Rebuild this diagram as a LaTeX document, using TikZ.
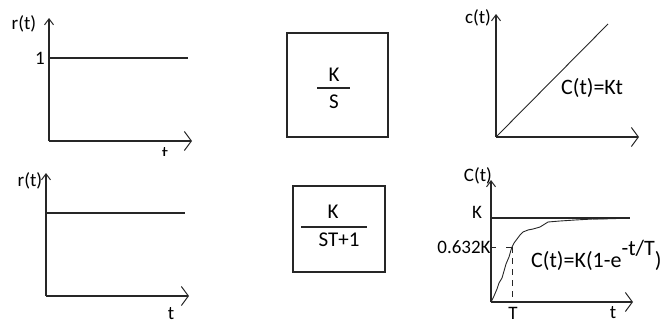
\documentclass[tikz,border=0pt]{standalone}
\usepackage{fontspec}
\setmainfont{Carlito}
\usetikzlibrary{arrows.meta}
\begin{document}
\begin{tikzpicture}[x=1pt,y=-1pt,
 axis/.style={line width=1.4pt, draw=black!85},
 xarr/.style={-{Straight Barb[length=7pt,width=19pt,line width=1pt]}},
 yarr/.style={-{Straight Barb[length=6pt,width=9pt,line width=1pt]}},
 lvl/.style={line width=1.3pt, draw=black!85},
 thin/.style={line width=0.9pt, draw=black!85},
 lbl/.style={font=\fontsize{19}{19}\selectfont, inner sep=0pt},
 bxt/.style={font=\fontsize{21}{21}\selectfont, inner sep=0pt},
 frm/.style={font=\fontsize{22}{22}\selectfont, inner sep=0pt},
 blk/.style={draw=black!85, line width=1.4pt}]
\useasboundingbox (0,0) rectangle (666,324);
% ---------- top left ----------
\coordinate (o1) at (49,141);
\coordinate (y1) at (49,18);
\coordinate (x1) at (192,141);
\coordinate (l1a) at (49,58);
\coordinate (l1b) at (188,58);
\draw[axis,yarr] (o1) -- (y1);
\draw[axis,xarr] (o1) -- (x1);
\draw[lvl] (l1a) -- (l1b);
\node[lbl] (r1) at (24,24) {r(t)};
\node[lbl] (one) at (40,58) {1};
\begin{scope}
\clip (150,140) rectangle (180,155);
\node[lbl,anchor=base] (tcut) at (165,159) {t};
\end{scope}
% ---------- bottom left ----------
\coordinate (o2) at (46,296);
\coordinate (y2) at (46,173);
\coordinate (x2) at (189,296);
\coordinate (l2a) at (46,213);
\coordinate (l2b) at (185,213);
\draw[axis,yarr] (o2) -- (y2);
\draw[axis,xarr] (o2) -- (x2);
\draw[lvl] (l2a) -- (l2b);
\node[lbl] (r2) at (30,181) {r(t)};
\node[lbl] (t2) at (171,314) {t};
% ---------- top box ----------
\node[blk, minimum width=101pt, minimum height=104pt] (b1) at (337.5,85) {};
\node[bxt] (k1) at (334,75) {K};
\node[bxt] (s1) at (334,102) {S};
\coordinate (f1a) at (317,88);
\coordinate (f1b) at (350,88);
\draw[lvl,line width=1.1pt] (f1a) -- (f1b);
% ---------- bottom box ----------
\node[blk, minimum width=92pt, minimum height=86pt] (b2) at (339,229) {};
\node[bxt] (k2) at (333,212) {K};
\node[bxt] (s2) at (339,240) {ST+1};
\coordinate (f2a) at (301,227);
\coordinate (f2b) at (367,227);
\draw[lvl,line width=1.1pt] (f2a) -- (f2b);
% ---------- top right ----------
\coordinate (o3) at (496,137);
\coordinate (y3) at (496,14);
\coordinate (x3) at (639,137);
\coordinate (d3) at (608,24);
\draw[axis,yarr] (o3) -- (y3);
\draw[axis,xarr] (o3) -- (x3);
\draw[thin] (o3) -- (d3);
\node[lbl] (c3) at (478,18) {c(t)};
\node[frm] (kt) at (592,88) {C(t)=Kt};
% ---------- bottom right ----------
\coordinate (o4) at (491,302);
\coordinate (y4) at (491,180);
\coordinate (x4) at (633,302);
\coordinate (k4a) at (491,218);
\coordinate (k4b) at (630,218);
\coordinate (tT) at (512,247);
\coordinate (tTb) at (512,302);
\coordinate (hT) at (491,247);
\draw[axis,yarr] (o4) -- (y4);
\draw[axis,xarr] (o4) -- (x4);
\draw[lvl] (k4a) -- (k4b);
\draw[thin] (o4) -- (494,296) -- (497,289) -- (499,283) -- (502,278) -- (504,271)
  -- (506,264) -- (509,257) -- (511,250) -- (tT) -- (514,243) -- (517,239)
  -- (520,235) -- (523,232) -- (528,230) -- (533,229) -- (540,227) -- (548,222)
  -- (560,221) -- (575,220) -- (593,219) -- (617,218);
\draw[line width=1.8pt, draw=black!85] (593,218.6) -- (616,218.2);
\draw[thin, dash pattern=on 6pt off 5pt] (tT) -- (tTb);
\draw[thin, dash pattern=on 6pt off 10pt] (tT) -- (hT);
\node[lbl] (c4) at (478,176) {C(t)};
\node[lbl] (k4) at (477,212) {K};
\node[lbl] (p4) at (464,247) {0.632K};
\node[lbl] (T4) at (513,313) {T};
\node[lbl] (t4) at (613,313) {t};
\node[frm, anchor=base west] (ce) at (531,267) {C(t)=K(1-e\raisebox{1.1ex}{-t/T})};
\end{tikzpicture}
\end{document}
